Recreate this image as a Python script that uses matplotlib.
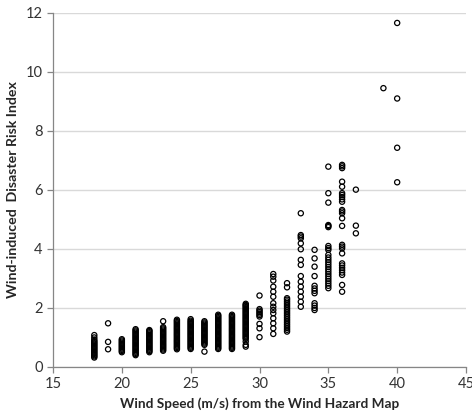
import matplotlib.pyplot as plt

# wind speed columns (m/s) and the risk index values read for each one
speeds = [18, 19, 20, 21, 22, 23, 24, 25, 26, 27, 28, 29, 30, 31, 32, 33, 34, 35, 36, 37, 39, 40]

risk = [
    # 18
    [0.32, 0.36, 0.40, 0.44, 0.48, 0.52, 0.56, 0.60, 0.64, 0.68, 0.72, 0.76,
     0.80, 0.84, 0.88, 0.93, 1.00, 1.08],
    # 19
    [0.60, 0.85, 1.48],
    # 20
    [0.50, 0.54, 0.58, 0.62, 0.66, 0.70, 0.74, 0.78, 0.82, 0.86, 0.90, 0.94],
    # 21
    [0.40, 0.44, 0.48, 0.52, 0.56, 0.60, 0.64, 0.68, 0.72, 0.76, 0.80, 0.84,
     0.88, 0.92, 0.96, 1.00, 1.04, 1.08, 1.12, 1.16, 1.20, 1.24, 1.28],
    # 22
    [0.50, 0.54, 0.58, 0.62, 0.66, 0.70, 0.74, 0.78, 0.82, 0.86, 0.90, 0.94,
     0.98, 1.02, 1.06, 1.10, 1.14, 1.18, 1.22, 1.25],
    # 23
    [0.55, 0.59, 0.63, 0.67, 0.71, 0.75, 0.79, 0.83, 0.87, 0.91, 0.95, 0.99,
     1.03, 1.07, 1.11, 1.15, 1.19, 1.23, 1.27, 1.31, 1.35, 1.55],
    # 24
    [0.60, 0.64, 0.68, 0.72, 0.76, 0.80, 0.84, 0.88, 0.92, 0.96, 1.00, 1.04,
     1.08, 1.12, 1.16, 1.20, 1.24, 1.28, 1.32, 1.36, 1.40, 1.44, 1.48, 1.52,
     1.56, 1.60],
    # 25
    [0.61, 0.65, 0.69, 0.73, 0.77, 0.81, 0.85, 0.89, 0.93, 0.97, 1.01, 1.05,
     1.09, 1.13, 1.17, 1.21, 1.25, 1.29, 1.33, 1.37, 1.41, 1.45, 1.49, 1.53,
     1.57, 1.62],
    # 26
    [0.52, 0.75, 0.79, 0.83, 0.87, 0.91, 0.95, 0.99, 1.03, 1.07, 1.11, 1.15,
     1.19, 1.23, 1.27, 1.31, 1.35, 1.39, 1.43, 1.47, 1.51, 1.55],
    # 27
    [0.61, 0.65, 0.69, 0.73, 0.77, 0.81, 0.85, 0.89, 0.93, 0.97, 1.01, 1.05,
     1.09, 1.13, 1.17, 1.21, 1.25, 1.29, 1.33, 1.37, 1.41, 1.45, 1.49, 1.53,
     1.57, 1.61, 1.65, 1.69, 1.73, 1.77],
    # 28
    [0.61, 0.65, 0.69, 0.73, 0.77, 0.81, 0.85, 0.89, 0.93, 0.97, 1.01, 1.05,
     1.09, 1.13, 1.17, 1.21, 1.25, 1.29, 1.33, 1.37, 1.41, 1.45, 1.49, 1.53,
     1.57, 1.61, 1.65, 1.69, 1.73, 1.77],
    # 29
    [0.69, 0.75, 0.86, 0.95, 0.99, 1.03, 1.07, 1.11, 1.15, 1.19, 1.23, 1.27,
     1.31, 1.35, 1.39, 1.43, 1.47, 1.51, 1.55, 1.59, 1.63, 1.67, 1.71, 1.75,
     1.79, 1.83, 1.87, 1.91, 1.95, 1.99, 2.03, 2.07, 2.10, 2.14],
    # 30
    [1.01, 1.31, 1.46, 1.71, 1.76, 1.81, 1.86, 1.91, 1.96, 2.42],
    # 31
    [1.12, 1.31, 1.48, 1.65, 1.82, 1.93, 2.04, 2.16, 2.38, 2.55, 2.72, 2.93,
     3.06, 3.15],
    # 32
    [1.20, 1.26, 1.32, 1.38, 1.44, 1.50, 1.56, 1.62, 1.68, 1.74, 1.80, 1.86,
     1.92, 1.98, 2.04, 2.10, 2.16, 2.22, 2.28, 2.33, 2.70, 2.84],
    # 33
    [2.04, 2.21, 2.38, 2.55, 2.72, 2.89, 3.08, 3.46, 3.63, 3.99, 4.19, 4.36,
     4.42, 4.47, 5.21],
    # 34
    [1.93, 2.00, 2.08, 2.16, 2.50, 2.58, 2.66, 2.75, 3.08, 3.40, 3.68, 3.97],
    # 35
    [2.67, 2.75, 2.83, 2.91, 2.99, 3.07, 3.15, 3.23, 3.31, 3.39, 3.47, 3.55,
     3.63, 3.71, 3.80, 3.97, 4.03, 4.10, 4.74, 4.78, 4.81, 5.57, 5.89, 6.79],
    # 36
    [2.55, 2.78, 3.12, 3.20, 3.28, 3.36, 3.44, 3.51, 3.85, 4.02, 4.08, 4.14,
     4.78, 5.04, 5.21, 5.27, 5.32, 5.60, 5.68, 5.76, 5.83, 5.89, 6.11, 6.28,
     6.74, 6.80, 6.85],
    # 37
    [4.53, 4.79, 6.01],
    # 39
    [9.45],
    # 40
    [6.26, 7.43, 9.10, 11.66],
]

xs = []
ys = []
for s, vals in zip(speeds, risk):
    xs += [s] * len(vals)
    ys += vals

plt.rcParams['font.family'] = ['Lato', 'DejaVu Sans']

fig = plt.figure(figsize=(4.72, 4.17), dpi=100)
ax = fig.add_axes([0.1123, 0.12, 0.875, 0.849])

ax.scatter(xs, ys, s=14, facecolors='none', edgecolors='black',
           linewidths=0.9, zorder=3)

ax.set_xlim(15, 45)
ax.set_ylim(0, 12)
ax.set_xticks(range(15, 46, 5))
ax.set_yticks(range(0, 13, 2))

ax.grid(axis='y', color='#d9d9d9', linewidth=1.0)
ax.set_axisbelow(True)

for side in ['top', 'right']:
    ax.spines[side].set_visible(False)
for side in ['left', 'bottom']:
    ax.spines[side].set_color('#868686')
    ax.spines[side].set_linewidth(0.9)

ax.tick_params(axis='both', colors='#868686', length=4, width=0.9,
               labelsize=10.5, labelcolor='#333333')

ax.set_xlabel('Wind Speed (m/s) from the Wind Hazard Map', fontsize=9.8,
              fontweight='bold', color='#262626', labelpad=4)
ax.set_ylabel('Wind-induced  Disaster Risk Index', fontsize=10.2,
              fontweight='bold', color='#262626', labelpad=5)

fig.savefig('out.png', dpi=100)
